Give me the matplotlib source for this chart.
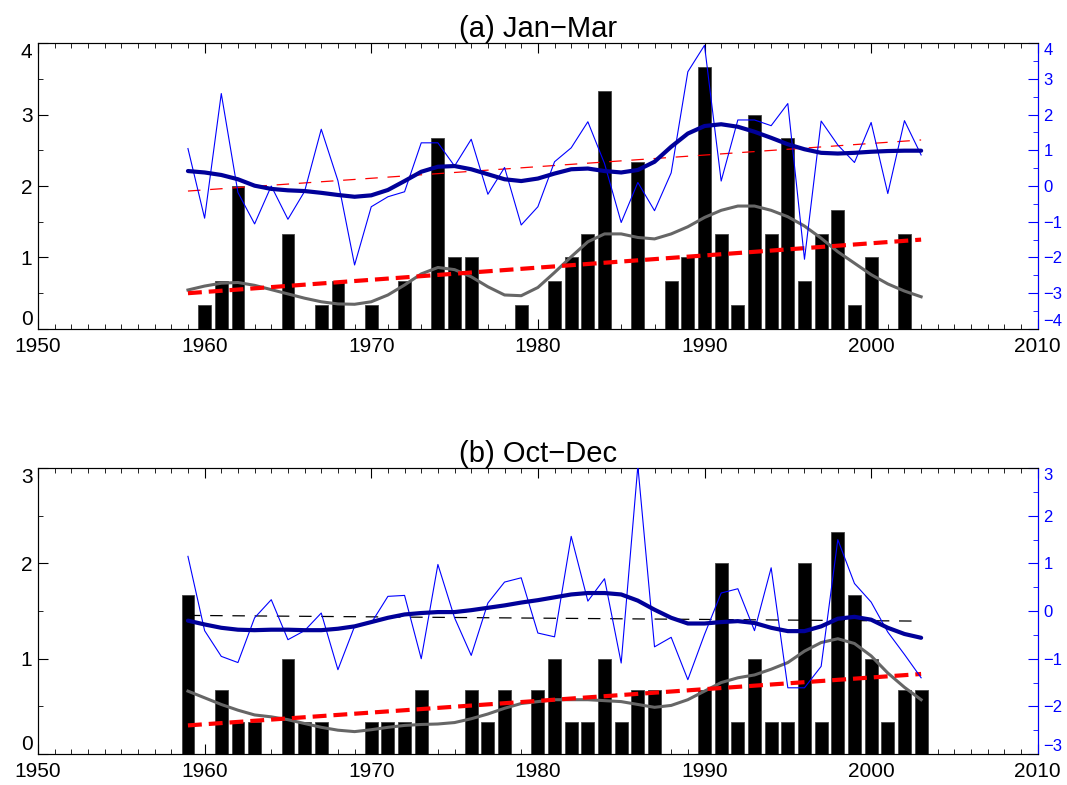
import numpy as np
import matplotlib
matplotlib.use("Agg")
import matplotlib.pyplot as plt
from matplotlib.ticker import MultipleLocator

plt.rcParams['font.family'] = ['Liberation Sans', 'DejaVu Sans']
plt.rcParams['lines.scale_dashes'] = False

years = np.arange(1959, 2004)

# ---- (a) Jan-Mar ----
bar_years_a = [1960, 1961, 1962, 1965, 1967, 1968, 1970, 1972, 1974, 1975, 1976, 1979,
               1981, 1982, 1983, 1984, 1986, 1988, 1989, 1990, 1991, 1992, 1993, 1994,
               1995, 1996, 1997, 1998, 1999, 2000, 2002]
bar_vals_a = [0.333, 0.667, 2.0, 1.333, 0.333, 0.667, 0.333, 0.667, 2.667, 1.0, 1.0, 0.333,
              0.667, 1.0, 1.333, 3.333, 2.333, 0.667, 1.0, 3.667, 1.333, 0.333, 3.0, 1.333,
              2.667, 0.667, 1.333, 1.667, 0.333, 1.0, 1.333]
grey_a = [0.545, 0.60, 0.64, 0.65, 0.61, 0.55, 0.49, 0.43, 0.38, 0.35, 0.345, 0.38, 0.475,
          0.615, 0.77, 0.86, 0.83, 0.73, 0.59, 0.475, 0.465, 0.58, 0.79, 1.01, 1.22,
          1.33, 1.33, 1.28, 1.26, 1.33, 1.43, 1.56, 1.66, 1.72, 1.72, 1.66, 1.57, 1.44,
          1.27, 1.08, 0.92, 0.76, 0.63, 0.53, 0.45]
index_a = [1.05, -0.90, 2.59, -0.18, -1.06, 0.0, -0.93, -0.15, 1.59, 0.15, -2.21, -0.58,
           -0.30, -0.16, 1.21, 1.21, 0.56, 1.31, -0.23, 0.52, -1.09, -0.58, 0.68, 1.07, 1.80,
           0.63, -1.02, 0.10, -0.69, 0.37, 3.20, 3.94, 0.14, 1.85, 1.85, 1.69, 2.31, -2.05,
           1.82, 1.15, 0.66, 1.78, -0.21, 1.83, 0.87]
smooth_a = [0.42, 0.38, 0.31, 0.19, 0.01, -0.08, -0.12, -0.14, -0.19, -0.25, -0.30, -0.26,
            -0.11, 0.14, 0.40, 0.54, 0.56, 0.47, 0.33, 0.19, 0.14, 0.21, 0.35, 0.47, 0.49,
            0.42, 0.38, 0.45, 0.68, 1.10, 1.47, 1.68, 1.73, 1.66, 1.52, 1.35, 1.17, 1.03,
            0.93, 0.91, 0.93, 0.96, 0.98, 0.99, 0.99]
count_trend_a = [0.50, 1.25]
index_trend_a = [-0.14, 1.29]

# ---- (b) Oct-Dec ----
bar_years_b = [1959, 1961, 1962, 1963, 1965, 1966, 1967, 1970, 1971, 1972, 1973, 1976,
               1977, 1978, 1980, 1981, 1982, 1983, 1984, 1985, 1986, 1987, 1990, 1991,
               1992, 1993, 1994, 1995, 1996, 1997, 1998, 1999, 2000, 2001, 2002, 2003]
bar_vals_b = [1.667, 0.667, 0.333, 0.333, 1.0, 0.333, 0.333, 0.333, 0.333, 0.333, 0.667, 0.667,
              0.333, 0.667, 0.667, 1.0, 0.333, 0.333, 1.0, 0.333, 0.667, 0.667, 0.667, 2.0,
              0.333, 1.0, 0.333, 0.333, 2.0, 0.333, 2.333, 1.667, 1.0, 0.333, 0.667, 0.667]
grey_b = [0.66, 0.59, 0.52, 0.46, 0.41, 0.39, 0.36, 0.32, 0.28, 0.25, 0.235, 0.255, 0.28,
          0.30, 0.31, 0.315, 0.33, 0.37, 0.42, 0.48, 0.53, 0.55, 0.57, 0.57, 0.57,
          0.56, 0.55, 0.52, 0.49, 0.51, 0.57, 0.66, 0.75, 0.80, 0.83, 0.89, 0.96, 1.08,
          1.17, 1.21, 1.16, 1.03, 0.85, 0.70, 0.57]
index_b = [1.15, -0.41, -0.95, -1.08, -0.14, 0.24, -0.60, -0.41, -0.04, -1.23, -0.32, -0.25,
           0.31, 0.33, -1.0, 0.98, -0.14, -0.93, 0.17, 0.61, 0.70, -0.46, -0.54, 1.57, 0.21,
           0.68, -1.09, 3.05, -0.75, -0.55, -1.44, -0.49, 0.38, 0.47, -0.41, 0.91, -1.61,
           -1.61, -1.16, 1.50, 0.58, 0.19, -0.44, -0.91, -1.40]
smooth_b = [-0.20, -0.28, -0.35, -0.39, -0.40, -0.39, -0.39, -0.40, -0.40, -0.37, -0.32,
            -0.23, -0.14, -0.07, -0.04, -0.02, -0.02, 0.02, 0.07, 0.12, 0.18, 0.23, 0.29,
            0.35, 0.38, 0.38, 0.35, 0.22, 0.03, -0.14, -0.26, -0.26, -0.23, -0.21, -0.25,
            -0.35, -0.42, -0.42, -0.32, -0.16, -0.12, -0.18, -0.35, -0.48, -0.56]
count_trend_b = [0.30, 0.84]
index_trend_b = [-0.09, -0.21]

trend_years = [1959, 2003]


def align_end_labels(axis_obj, lo, hi, lo_va, hi_va):
    # keep the labels at the ends of an axis inside the frame, as in the original
    for lab in axis_obj.get_ticklabels():
        y = lab.get_position()[1]
        if np.isclose(y, hi):
            lab.set_va(hi_va)
        elif np.isclose(y, lo):
            lab.set_va(lo_va)


def draw_panel(ax, title, bar_years, bar_vals, grey, count_trend, index, smooth,
               index_trend, trend_color, ylim_left, ylim_right):
    ax.bar(bar_years, bar_vals, width=0.77, color='black', edgecolor='#444444',
           linewidth=0.6, zorder=2)
    ax.plot(years, grey, color='#666666', lw=2.2, zorder=3)
    ax.plot(trend_years, count_trend, color='red', lw=3, dashes=(10, 5), zorder=4)
    ax.set_xlim(1950, 2010)
    ax.set_ylim(*ylim_left)
    ax.xaxis.set_major_locator(MultipleLocator(10))
    ax.xaxis.set_minor_locator(MultipleLocator(1))
    ax.yaxis.set_major_locator(MultipleLocator(1))
    ax.yaxis.set_minor_locator(MultipleLocator(0.5))
    ax.tick_params(which='both', direction='in', top=True, right=False,
                   labelsize=15, pad=4)
    ax.tick_params(axis='x', pad=6)
    ax.tick_params(which='major', length=7)
    ax.tick_params(which='minor', length=3.5)
    ax.set_title(title, fontsize=21, pad=3)
    for s in ax.spines.values():
        s.set_color('#333333')

    ax2 = ax.twinx()
    ax2.plot(trend_years, index_trend, color=trend_color, lw=0.9, dashes=(9, 7), zorder=3)
    ax2.plot(years, index, color='#0000ff', lw=0.8, zorder=4)
    ax2.plot(years, smooth, color='#000099', lw=3, zorder=5, solid_capstyle='round')
    ax2.set_ylim(*ylim_right)
    ax2.yaxis.set_major_locator(MultipleLocator(1))
    ax2.yaxis.set_minor_locator(MultipleLocator(0.5))
    ax2.tick_params(which='both', direction='in', colors='#0000ff', labelsize=12, pad=4)
    ax2.tick_params(which='major', length=7)
    ax2.tick_params(which='minor', length=3.5)
    ax2.spines['right'].set_color('#0000ff')

    align_end_labels(ax.yaxis, ylim_left[0], ylim_left[1], 'bottom', 'top')
    align_end_labels(ax2.yaxis, ylim_right[0], ylim_right[1], 'bottom', 'top')


fig = plt.figure(figsize=(10.67, 7.85), dpi=100)
ax_a = fig.add_axes([0.0356, 0.581, 0.937, 0.364])
ax_b = fig.add_axes([0.0356, 0.0395, 0.937, 0.364])

draw_panel(ax_a, '(a) Jan\u2212Mar', bar_years_a, bar_vals_a, grey_a, count_trend_a,
           index_a, smooth_a, index_trend_a, 'red', (0, 4), (-4, 4))
draw_panel(ax_b, '(b) Oct\u2212Dec', bar_years_b, bar_vals_b, grey_b, count_trend_b,
           index_b, smooth_b, index_trend_b, 'black', (0, 3), (-3, 3))

fig.savefig('out.png', dpi=100)
